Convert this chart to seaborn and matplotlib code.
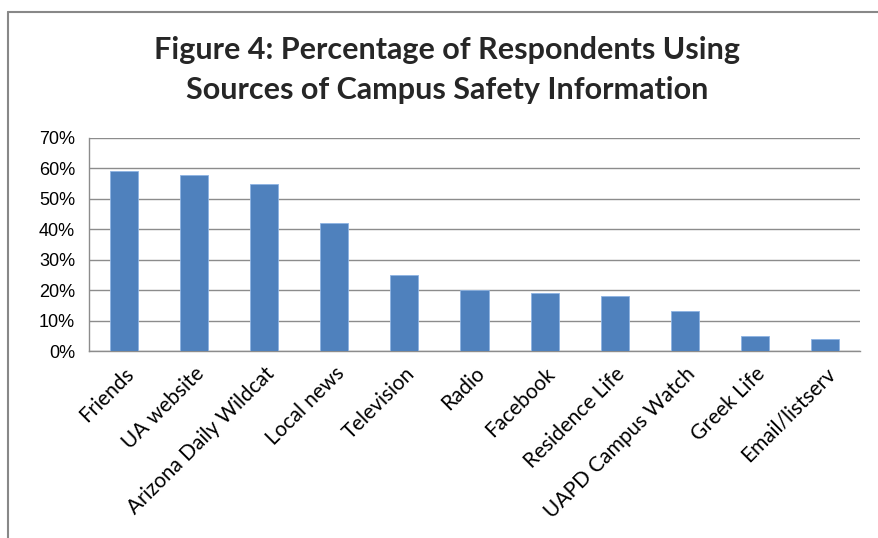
import matplotlib
matplotlib.use("Agg")
import matplotlib.pyplot as plt
import seaborn as sns
import pandas as pd
from matplotlib.lines import Line2D
from matplotlib.ticker import FuncFormatter, MultipleLocator

categories = ["Friends", "UA website", "Arizona Daily Wildcat", "Local news",
              "Television", "Radio", "Facebook", "Residence Life",
              "UAPD Campus Watch", "Greek Life", "Email/listserv"]
values = [59, 58, 55, 42, 25, 20, 19, 18, 13, 5, 4]

sns.set_theme(style="white")
plt.rcParams['font.family'] = ['Lato', 'DejaVu Sans']

W, H = 879, 538
fig = plt.figure(figsize=(W / 100, H / 100), dpi=100)
ax = fig.add_axes([89 / W, 1 - 351 / H, (860 - 89) / W, (351 - 138) / H])

df = pd.DataFrame({"cat": categories, "val": values})
sns.barplot(data=df, x="cat", y="val", color="#4F81BD", width=0.4,
            saturation=1, ax=ax, zorder=3, edgecolor="#8EB4E3", linewidth=0.6)

ax.set_ylim(0, 70)
ax.set_xlim(-0.5, len(categories) - 0.5)
ax.yaxis.set_major_locator(MultipleLocator(10))
ax.yaxis.set_major_formatter(FuncFormatter(lambda v, p: f"{int(v)}%"))
ax.grid(axis="y", color="#8C8C8C", linewidth=1.0, zorder=0)
ax.set_xlabel("")
ax.set_ylabel("")
for s in ["top", "right"]:
    ax.spines[s].set_visible(False)
for s in ["left", "bottom"]:
    ax.spines[s].set_color("#8C8C8C")
    ax.spines[s].set_linewidth(1.0)
ax.tick_params(axis="y", labelsize=13, colors="#000000", pad=10, length=0)
ax.tick_params(axis="x", labelsize=15, colors="#000000", length=0, pad=9)
for t in ax.get_yticklabels():
    t.set_family(["Liberation Sans", "DejaVu Sans"])
plt.setp(ax.get_xticklabels(), rotation=45, ha="right", rotation_mode="anchor")

fig.text(447 / W, 1 - 50 / H, "Figure 4: Percentage of Respondents Using",
         ha="center", va="center", fontsize=22, fontweight="bold")
fig.text(447 / W, 1 - 90 / H, "Sources of Campus Safety Information",
         ha="center", va="center", fontsize=22, fontweight="bold")

fig.add_artist(Line2D([8 / W, 1.0], [1 - 12 / H, 1 - 12 / H], color="#888888", linewidth=1.5))
fig.add_artist(Line2D([8 / W, 8 / W], [0, 1 - 12 / H], color="#888888", linewidth=1.5))

fig.savefig("out.png", dpi=100)
